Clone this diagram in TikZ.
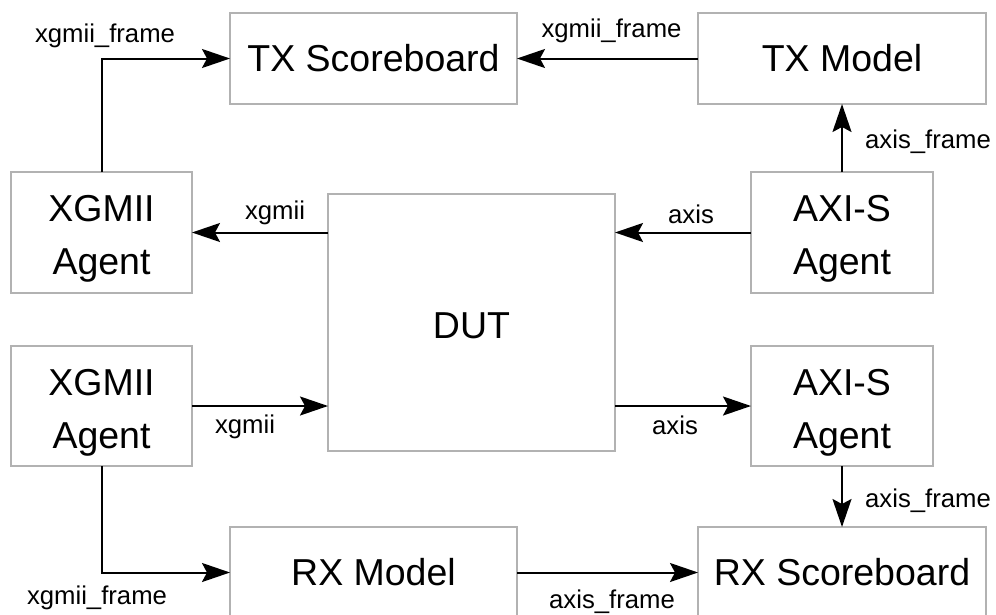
\documentclass[tikz,border=0pt]{standalone}
\usepackage{fontspec}
\setmainfont{Liberation Sans}
\usetikzlibrary{arrows.meta}
\definecolor{boxgray}{RGB}{178,178,178}
\begin{document}
\begin{tikzpicture}[x=1pt,y=-1pt,
  box/.style={draw=boxgray,line width=1.2pt,inner sep=0pt,outer sep=0pt,
    font=\fontsize{37.5}{53}\selectfont},
  btext/.style={inner sep=0pt,align=center,font=\fontsize{37.5}{53}\selectfont},
  lbl/.style={inner sep=0pt,anchor=base,font=\fontsize{25.7}{30}\selectfont},
  conn/.style={line width=2pt,-{Stealth[length=28pt,width=19pt,inset=5pt]}}]
\useasboundingbox (0,0) rectangle (996,614);
% boxes
\node[box,minimum width=287pt,minimum height=91pt] (txs) at (373.5,58.5) {TX Scoreboard};
\node[box,minimum width=288pt,minimum height=91pt] (txm) at (842,58.5) {TX Model};
\node[box,minimum width=181pt,minimum height=121pt] (xg1) at (101.5,232.5) {};
\node[btext,yshift=-6.5pt] (xg1t) at (xg1.center) {XGMII\\Agent};
\node[box,minimum width=181pt,minimum height=120pt] (xg2) at (101.5,406) {};
\node[btext,yshift=-6.5pt] (xg2t) at (xg2.center) {XGMII\\Agent};
\node[box,minimum width=287pt,minimum height=257pt] (dut) at (471.5,322.5) {};
\node[btext,yshift=-3pt] (dutt) at (dut.center) {DUT};
\node[box,minimum width=182pt,minimum height=121pt] (ax1) at (842,232.5) {};
\node[btext,yshift=-6.5pt] (ax1t) at (ax1.center) {AXI-S\\Agent};
\node[box,minimum width=182pt,minimum height=120pt] (ax2) at (842,406) {};
\node[btext,yshift=-6.5pt] (ax2t) at (ax2.center) {AXI-S\\Agent};
\node[box,minimum width=287pt,minimum height=91pt] (rxm) at (373.5,572.5) {RX Model};
\node[box,minimum width=288pt,minimum height=91pt] (rxs) at (842,572.5) {RX Scoreboard};
% connectors
\draw[conn] (xg1.north) |- (txs.west);
\draw[conn] (txm.west) -- (txs.east);
\draw[conn] (ax1.north) -- (txm.south);
\draw[conn] (xg1.east -| dut.west) -- (xg1.east);
\draw[conn] (ax1.west) -- (ax1.west -| dut.east);
\draw[conn] (xg2.east) -- (xg2.east -| dut.west);
\draw[conn] (xg2.east -| dut.east) -- (ax2.west);
\draw[conn] (xg2.south) |- (rxm.west);
\draw[conn] (rxm.east) -- (rxs.west);
\draw[conn] (ax2.south) -- (rxs.north);
% labels
\node[lbl] (l1) at (105,42) {xgmii\_frame};
\node[lbl] (l2) at (611.5,37) {xgmii\_frame};
\node[lbl] (l3) at (928,148) {axis\_frame};
\node[lbl] (l4) at (275,219) {xgmii};
\node[lbl] (l5) at (691,223) {axis};
\node[lbl] (l6) at (245,433) {xgmii};
\node[lbl] (l7) at (675,434) {axis};
\node[lbl] (l8) at (928,507) {axis\_frame};
\node[lbl] (l9) at (97,604) {xgmii\_frame};
\node[lbl] (l10) at (612,608) {axis\_frame};
\end{tikzpicture}
\end{document}
